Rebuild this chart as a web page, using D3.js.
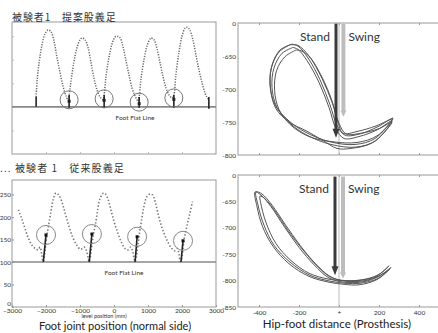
<!DOCTYPE html>
<html><head><meta charset="utf-8">
<script src="https://cdn.jsdelivr.net/npm/d3@7"></script>
<style>body{margin:0;background:#fff}svg{display:block}</style>
</head><body><svg id="c" width="438" height="333"></svg>
<script>
// ---------------- DATA ----------------
// Top-left: proposed prosthesis, foot joint trajectory (x: mm, y: height)
const tlCurve = [
 [-2290,121],[-2260,157],[-2200,195],[-2120,231],[-2030,255],[-1940,263],[-1850,259],[-1760,238],[-1680,206],[-1590,174],[-1500,144],[-1410,123],[-1350,115],
 [-1320,125],[-1260,157],[-1180,195],[-1090,225],[-1000,242],[-940,246],[-850,242],[-760,225],[-680,195],[-590,161],[-500,136],[-410,121],[-320,115],
 [-290,125],[-240,161],[-150,204],[-60,233],[30,248],[90,250],[180,246],[260,229],[350,199],[440,168],[530,140],[620,123],[710,112],
 [740,121],[790,157],[880,199],[970,229],[1060,244],[1090,246],[1180,242],[1260,225],[1350,195],[1440,165],[1530,140],[1620,125],[1710,119],
 [1760,125],[1820,168],[1910,216],[2000,250],[2090,267],[2150,269],[2230,263],[2320,242],[2410,210],[2500,178],[2590,151],[2680,129],[2730,121],[2790,115]
];
const tlStrikeX = [-2290,-1320,-290,740,1760,2790];
const tlStrikeTop = [121,125,125,121,125,121];
const tlStrikeBottom = [100,98,98,98,98,96];
const tlCircles = [[-1320,115],[-290,117],[740,110],[1760,119]];

// Bottom-left: conventional prosthesis
const blCurve = [
 [-2810,216],[-2720,197],[-2620,175],[-2520,153],[-2420,138],[-2320,130],[-2230,127],[-2180,133],[-2130,119],[-2100,104],[-2080,101],
 [-1980,156],[-1930,178],[-1880,201],[-1830,223],[-1780,241],[-1710,253],[-1640,250],[-1570,241],[-1490,223],[-1410,201],[-1320,178],[-1220,156],[-1100,138],[-980,128],[-880,133],[-820,127],[-770,112],[-730,101],
 [-610,160],[-540,186],[-480,216],[-410,241],[-310,253],[-240,250],[-170,238],[-90,216],[0,190],[100,167],[210,145],[320,130],[420,127],[490,133],[550,123],[590,108],[620,101],
 [750,164],[810,193],[880,223],[960,244],[1060,251],[1140,248],[1210,234],[1280,212],[1370,186],[1470,164],[1580,145],[1700,130],[1790,125],[1860,130],[1910,119],[1940,104],[1970,101],
 [2060,149],[2140,178],[2220,204],[2310,234]
];
const blCircles = [[-2000,160],[-650,162],[680,156],[2030,147]];
const blStrikeBottomX = [-2080,-730,620,1970];
const footFlat = 100;
const blXTicks = [-3000,-2000,-1000,0,1000,2000,3000];
const blYTicks = [0,50,100,150,200,250];

// Top-right: hip-foot distance loops (proposed)
const trLoopA = [[-235,-632],[-295,-641],[-335,-664],[-345,-694],[-320,-724],[-255,-747],[-170,-765],[-45,-780],[80,-784],[180,-775],[270,-744],[195,-757],[105,-768],[30,-770],[-10,-755],[-45,-724],[-95,-686],[-155,-653],[-205,-635],[-235,-632]];
const trLoopB = [[-230,-637],[-285,-646],[-325,-668],[-335,-698],[-310,-728],[-245,-752],[-160,-770],[-40,-784],[85,-788],[185,-778],[265,-748],[190,-762],[100,-772],[25,-775],[-15,-760],[-50,-728],[-100,-690],[-160,-657],[-205,-640],[-230,-637]];
const trLoopC = [[-215,-641],[-270,-651],[-312,-672],[-322,-702],[-300,-731],[-240,-755],[-150,-772],[-30,-780],[90,-781],[190,-771],[265,-746],[185,-756],[95,-764],[20,-767],[-5,-750],[-35,-718],[-85,-682],[-145,-652],[-190,-642],[-215,-641]];
const trLoopD = [[-245,-633],[-300,-644],[-338,-668],[-342,-700],[-315,-730],[-250,-750],[-160,-764],[-80,-778],[-10,-790],[60,-790],[170,-781],[265,-750],[200,-760],[110,-767],[35,-768],[0,-752],[-35,-720],[-85,-684],[-150,-650],[-205,-634],[-245,-633]];
const trYTicks = [-600,-650,-700,-750,-800];
const trYLabels = ["0","-650","-700","-750","-800"];

// Bottom-right: hip-foot distance loops (conventional)
const brLoopE = [[260,-775],[195,-796],[105,-805],[30,-805],[-45,-801],[-145,-790],[-245,-765],[-325,-733],[-375,-695],[-405,-657],[-415,-632],[-385,-636],[-335,-657],[-270,-693],[-195,-733],[-120,-767],[-45,-792],[30,-801],[130,-800],[205,-790],[260,-775]];
const brLoopF = [[255,-778],[190,-798],[100,-808],[25,-807],[-50,-803],[-150,-792],[-250,-768],[-330,-735],[-382,-698],[-410,-660],[-420,-632],[-390,-638],[-340,-660],[-275,-697],[-200,-737],[-125,-770],[-50,-795],[25,-803],[125,-802],[200,-792],[255,-778]];
const brLoopG = [[250,-772],[185,-792],[95,-800],[20,-800],[-55,-797],[-150,-786],[-240,-762],[-315,-730],[-365,-690],[-392,-652],[-395,-640],[-370,-645],[-320,-668],[-255,-705],[-180,-742],[-110,-772],[-40,-794],[35,-800],[135,-797],[205,-787],[250,-772]];
const brYTicks = [-600,-650,-700,-750,-800,-850];
const brYLabels = ["0","-650","-700","-750","-800","-850"];
const rXTicks = [-400,-200,0,200,400];
const rXLabels = ["-400","-200","+","200","400"];

// arrows [x, yStart, yEnd]
const trStand = [-15,-601,-774], trSwing = [22,-601,-742];
const brStand = [-20,-603,-790], brSwing = [20,-603,-796];

// ---------------- DRAW ----------------
const svg = d3.select("#c");
const F = "Lato, 'Open Sans', sans-serif";
const CJK = "'Noto Sans CJK JP', sans-serif";
svg.append("rect").attr("width",438).attr("height",333).attr("fill","#fff");

function box(x0,y0,x1,y1){
  svg.append("rect").attr("x",x0).attr("y",y0).attr("width",x1-x0).attr("height",y1-y0)
    .attr("fill","none").attr("stroke","#999").attr("stroke-width",1);
}
function arrow(x, ys, ye, color, w, hw, hl){
  svg.append("line").attr("x1",x).attr("x2",x).attr("y1",ys).attr("y2",ye-hl+1)
    .attr("stroke",color).attr("stroke-width",w);
  svg.append("path").attr("d",`M${x-hw/2},${ye-hl}L${x+hw/2},${ye-hl}L${x},${ye}Z`).attr("fill",color);
}

// ---- Top-left ----
const tlx = d3.scaleLinear().domain([-3000,3000]).range([12,216]);
const tly = d3.scaleLinear().domain([0,280]).range([154,22]);
box(12,22,216,154);
svg.append("g").attr("transform","translate(12,0)")
  .call(d3.axisLeft(tly).tickValues([50,100,150,200,250]).tickSize(-2).tickFormat(""))
  .call(g=>{g.select(".domain").remove();g.selectAll("line").attr("stroke","#bbb");});
svg.append("g").attr("transform","translate(0,154)")
  .call(d3.axisBottom(tlx).tickValues(blXTicks.slice(1,-1)).tickSize(-2).tickFormat(""))
  .call(g=>{g.select(".domain").remove();g.selectAll("line").attr("stroke","#bbb");});
svg.append("line").attr("x1",12).attr("x2",216).attr("y1",tly(footFlat)).attr("y2",tly(footFlat))
  .attr("stroke","#888").attr("stroke-width",1.6);
svg.append("path").datum(tlCurve)
  .attr("d",d3.line().x(d=>tlx(d[0])).y(d=>tly(d[1])).curve(d3.curveCatmullRom))
  .attr("fill","none").attr("stroke","#666").attr("stroke-width",1.5).attr("stroke-dasharray","1.2,1.4");
tlStrikeX.forEach((sx,i)=>{
  svg.append("line").attr("x1",tlx(sx)).attr("x2",tlx(sx)).attr("y1",tly(tlStrikeTop[i])).attr("y2",tly(tlStrikeBottom[i]))
    .attr("stroke","#222").attr("stroke-width",1.6);
});
tlCircles.forEach(c=>{
  svg.append("circle").attr("cx",tlx(c[0])).attr("cy",tly(c[1])).attr("r",9)
    .attr("fill","none").attr("stroke","#777").attr("stroke-width",1);
  svg.append("rect").attr("x",tlx(c[0])-1.5).attr("y",tly(c[1])).attr("width",3).attr("height",3).attr("fill","#222");
});
svg.append("text").attr("x",135).attr("y",120).attr("text-anchor","middle")
  .attr("font-family",F).attr("font-size",6.5).attr("fill","#333").text("Foot Flat Line");
svg.append("text").attr("x",12).attr("y",21).attr("font-family",CJK).attr("font-size",10)
  .attr("fill","#333").attr("letter-spacing",0.9).attr("xml:space","preserve").text("被験者1　提案股義足");

// ---- Bottom-left ----
const blx = d3.scaleLinear().domain([-3000,3000]).range([12,216]);
const bly = d3.scaleLinear().domain([0,282]).range([307,180]);
box(12,180,216,307);
svg.append("g").attr("transform","translate(12,0)")
  .call(d3.axisLeft(bly).tickValues(blYTicks).tickSize(-2).tickPadding(1).tickFormat(d3.format("d")))
  .call(g=>{g.select(".domain").remove();g.selectAll("line").attr("stroke","#999");
    g.selectAll("text").attr("font-family",F).attr("font-size",6.5).attr("fill","#333");
    g.selectAll(".tick").filter(d=>d===0).select("text").attr("dy","-0.2em");});
svg.append("g").attr("transform","translate(0,307)")
  .call(d3.axisBottom(blx).tickValues(blXTicks).tickSize(-2).tickPadding(1).tickFormat(d3.format("d")))
  .call(g=>{g.select(".domain").remove();g.selectAll("line").attr("stroke","#999");
    g.selectAll("text").attr("font-family",F).attr("font-size",6.5).attr("fill","#333");});
svg.append("line").attr("x1",12).attr("x2",216).attr("y1",bly(footFlat)).attr("y2",bly(footFlat))
  .attr("stroke","#888").attr("stroke-width",1.6);
svg.append("path").datum(blCurve)
  .attr("d",d3.line().x(d=>blx(d[0])).y(d=>bly(d[1])).curve(d3.curveCatmullRom))
  .attr("fill","none").attr("stroke","#777").attr("stroke-width",1.6).attr("stroke-dasharray","1.4,2");
blCircles.forEach((c,i)=>{
  svg.append("line").attr("x1",blx(c[0])).attr("x2",blx(blStrikeBottomX[i])).attr("y1",bly(c[1])).attr("y2",bly(footFlat))
    .attr("stroke","#222").attr("stroke-width",1.6);
  svg.append("circle").attr("cx",blx(c[0])).attr("cy",bly(c[1])).attr("r",9.5)
    .attr("fill","none").attr("stroke","#888").attr("stroke-width",1);
  svg.append("rect").attr("x",blx(c[0])-1.5).attr("y",bly(c[1])-1.5).attr("width",3).attr("height",3).attr("fill","#111");
});
svg.append("text").attr("x",124).attr("y",275).attr("text-anchor","middle")
  .attr("font-family",F).attr("font-size",6.5).attr("fill","#333").text("Foot Flat Line");
svg.append("text").attr("x",0).attr("y",172).attr("font-family",CJK).attr("font-size",10)
  .attr("fill","#333").attr("letter-spacing",1.1).attr("xml:space","preserve").text("... 被験者 1　従来股義足");
svg.append("text").attr("x",104).attr("y",318).attr("text-anchor","middle")
  .attr("font-family",F).attr("font-size",5.5).attr("fill","#333").text("level position (mm)");
svg.append("text").attr("x",115).attr("y",330).attr("text-anchor","middle")
  .attr("font-family",F).attr("font-size",11).attr("fill","#222").text("Foot joint position (normal side)");

// ---- Right panels ----
function rightPanel(y0,y1,yDomain,yTicks,yLabels,loops,stand,swing,showX){
  const x = d3.scaleLinear().domain([-500,500]).range([239,439]);
  const y = d3.scaleLinear().domain(yDomain).range([y1,y0]);
  svg.append("rect").attr("x",238).attr("y",y0).attr("width",210).attr("height",y1-y0)
    .attr("fill","none").attr("stroke","#999").attr("stroke-width",1);
  svg.append("g").attr("transform",`translate(0,${y0})`)
    .call(d3.axisBottom(x).tickValues(rXTicks).tickSize(2).tickFormat(""))
    .call(g=>{g.select(".domain").remove();g.selectAll("line").attr("stroke","#999");});
  svg.append("g").attr("transform",`translate(0,${y1})`)
    .call(d3.axisBottom(x).tickValues(rXTicks).tickSize(-2).tickPadding(3)
      .tickFormat((d,i)=>showX?rXLabels[i]:""))
    .call(g=>{g.select(".domain").remove();g.selectAll("line").attr("stroke","#999");
      g.selectAll("text").attr("font-family",F).attr("font-size",6.5).attr("fill","#333");});
  svg.append("g").attr("transform","translate(238,0)")
    .call(d3.axisLeft(y).tickValues(yTicks).tickSize(0).tickPadding(2).tickFormat((d,i)=>yLabels[i]))
    .call(g=>{g.select(".domain").remove();
      g.selectAll("text").attr("font-family",F).attr("font-size",6.5).attr("fill","#333");});
  svg.append("line").attr("x1",x(0)).attr("x2",x(0)).attr("y1",y0).attr("y2",y1)
    .attr("stroke","#aaa").attr("stroke-width",0.8);
  const ln = d3.line().x(d=>x(d[0])).y(d=>y(d[1])).curve(d3.curveCatmullRom);
  loops.forEach(l=>svg.append("path").datum(l).attr("d",ln).attr("fill","none")
    .attr("stroke","#555").attr("stroke-width",1));
  arrow(x(swing[0]),y(swing[1]),y(swing[2]),"#bdbdbd",4,6,6);
  arrow(x(stand[0]),y(stand[1]),y(stand[2]),"#3a3a3a",3,7,9);
  svg.append("text").attr("x",x(stand[0])-6).attr("y",y0+18).attr("text-anchor","end")
    .attr("font-family",F).attr("font-size",12).attr("fill","#333").text("Stand");
  svg.append("text").attr("x",x(swing[0])+5).attr("y",y0+18)
    .attr("font-family",F).attr("font-size",12).attr("fill","#333").text("Swing");
}
rightPanel(23,155,[-800,-600],trYTicks,trYLabels,[trLoopA,trLoopB,trLoopC,trLoopD],trStand,trSwing,false);
rightPanel(175,307,[-850,-600],brYTicks,brYLabels,[brLoopE,brLoopF,brLoopG],brStand,brSwing,true);
svg.append("text").attr("x",337).attr("y",328).attr("text-anchor","middle")
  .attr("font-family",F).attr("font-size",11.5).attr("fill","#222").text("Hip-foot distance (Prosthesis)");
</script></body></html>
